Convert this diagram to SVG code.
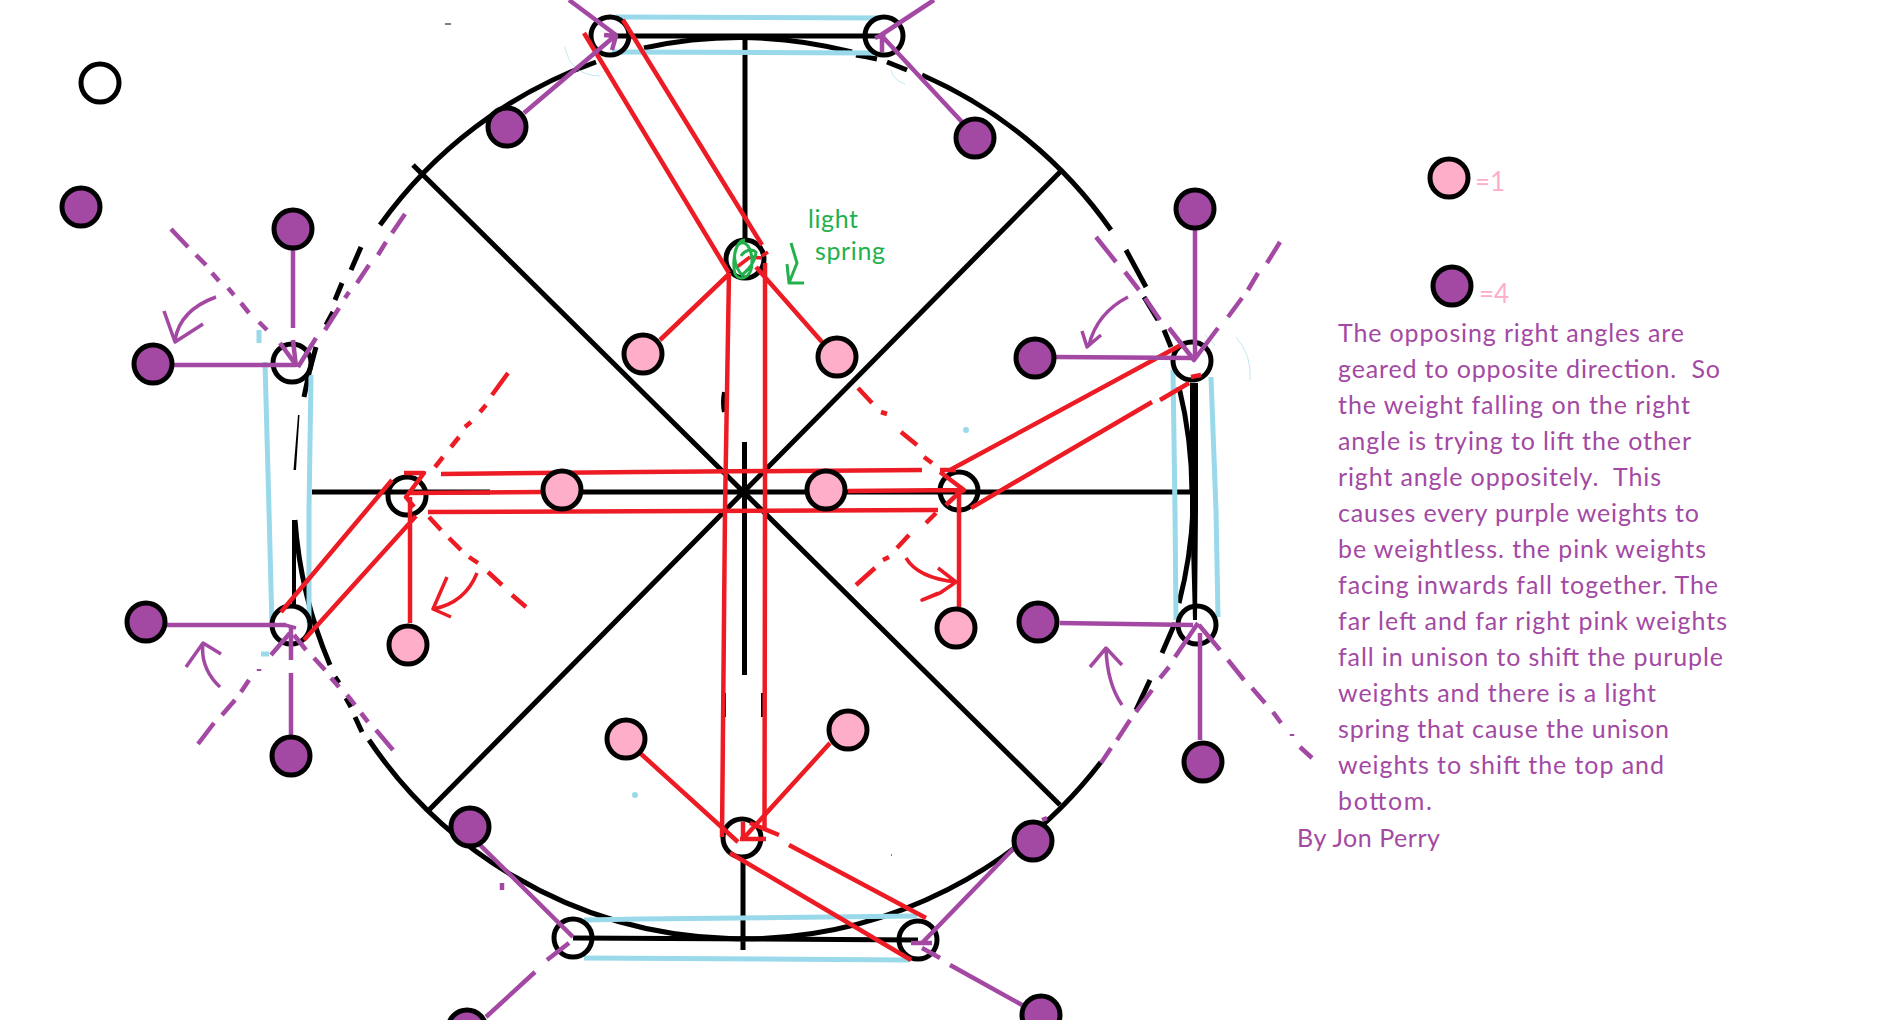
<svg xmlns="http://www.w3.org/2000/svg" width="1895" height="1020" viewBox="0 0 1895 1020">
<style>
.l{fill:none;stroke-linecap:butt;stroke-linejoin:round}
.k{stroke:#000;stroke-width:5}
.kt{stroke:#000;stroke-width:4}
.b{stroke:#99d9ea;stroke-width:5}
.bf{stroke:#99d9ea;stroke-width:1;opacity:.6}
.p{stroke:#a349a4;stroke-width:4.500}
.pt{stroke:#a349a4;stroke-width:3.500}
.r{stroke:#ed1c24;stroke-width:4.500}
.rt{stroke:#ed1c24;stroke-width:3.500}
.g{stroke:#22b14c;stroke-width:3}
.n{stroke:#000;stroke-width:5}
.o{fill:none}
.pi{fill:#ffaec9}
.pu{fill:#a349a4}
text{font-family:Lato,"Liberation Sans",sans-serif;white-space:pre}
.t{font-size:25px;fill:#a349a4}
.gt{font-size:25px;fill:#22b14c}
.lg{font-size:26px;fill:#ffaec9}
</style>
<g id="connectors">
<g id="wheel">
<path class="l k" d="M380 225A451 451 0 0 1 596 62M644 48A451 451 0 0 1 852 52M856 55A451 451 0 0 1 877 59M887 62L907 70M922 75A451 451 0 0 1 1111 230"/>
<path class="l k" d="M1126 250L1146 287M1144 297L1158 320M1164 330L1171 347M1179 387A451 451 0 0 1 1192 493M1193 510A451 451 0 0 1 1179 603M1175 623L1162 653M1150 680L1136 710"/>
<path class="l k" d="M1101 762A451 451 0 0 1 369 740"/>
<path class="l k" d="M362 732L355 717M351 707L346 698M339 683L335 677M330 665A451 451 0 0 1 295 520"/>
<path class="l k" d="M361 247L351 270M342 283L335 300M333 312L326 325M304 397A451 451 0 0 1 316 347"/>
<path class="l kt" d="M294 520V605M724 392Q722 403 724 412"/>
<path class="l" stroke="#000" stroke-width="2" d="M725 693V717M762 693V717"/>
<path d="M298 415L299.500 415L296 470L293.500 470ZM1190 383L1198 383L1198 510L1197 620L1193 620L1190 510Z" fill="#000"/>
<path class="l k" d="M610 36H884M573 938L918 940M745 36V240M743 857V950M744.500 442V675M312 492H490M575 492H1191M413 165L1060 805M429 810L1062 170"/>
<path d="M445 24h6M891 855h1" class="l" stroke="#000" stroke-width="1"/>
</g>
<g id="blue">
<path class="l b" d="M616 17L881 18M612 52L873 53M584 920L640 919L917 916M584 958L909 960M265 362L269 510L272 627M311 375L309 510L309 623M1173 370L1175 510L1176 620M1211 377L1216 510L1218 617"/>
<path class="l b" d="M259 330V343M261 654H269"/>
<circle cx="966" cy="430" r="3" fill="#99d9ea"/><circle cx="635" cy="795" r="3" fill="#99d9ea"/>
<path class="l bf" d="M565 47Q570 75 600 76M891 70Q893 80 905 84M1236 337Q1252 355 1250 380M1205 335L1215 345"/>
</g>
<g id="open-nodes">
<circle class="n o" cx="292" cy="363" r="19"/><circle class="n o" cx="610" cy="36" r="19"/><circle class="n o" cx="884" cy="36" r="19"/><circle class="n o" cx="407" cy="496" r="19"/><circle class="n o" cx="291" cy="625" r="19"/><circle class="n o" cx="573" cy="938" r="19"/><circle class="n o" cx="745" cy="259" r="19"/><circle class="n o" cx="959" cy="491" r="19"/><circle class="n o" cx="1192" cy="361" r="19"/><circle class="n o" cx="1197" cy="625" r="19"/><circle class="n o" cx="742" cy="838" r="19"/><circle class="n o" cx="918" cy="940" r="19"/>
</g>
<g id="red">
<path class="l r" d="M392 480L281 612M404 473H424L406 497L414 507M416 516L304 640M410 497V623M441 474L640 472L922 470M408 493L543 492M848 491L962 490M946 505L964 488M428 512L938 510"/>
<path class="l r" d="M729 273L725 510L722 837M765 263V510L764.500 830M584 33L729 273M623 20L762 245M728 275L660 340M756 267L822 342"/>
<path class="l r" d="M940 470H956M940 472L964 490L959 493V607M950 470L1181 345M971 508L1152 402M1160 400L1189 383M1191 377L1201 375"/>
<path class="l r" d="M640 753L738 842M830 743L742 840M743 822V840M740 839H766M750 823L779 835M789 845L926 918M730 853L911 960"/>
<path class="l r" d="M858 388L872 403M881 412L887 414M901 432L917 445M924 457L932 463M936 513L926 523M909 535L897 548M889 557L883 560M875 568L856 585M508 373L492 395M486 405L480 412M471 422L465 427M459 437L451 447M443 457L435 467M429 517L441 530M449 538L461 550M469 557L478 563M488 572L502 585M512 595L526 607"/>
<path class="l rt" d="M906 558Q918 578 956 582M938 568L956 582L940 593L922 600L938 593M477 573Q465 603 433 609M447 577L433 609L451 617M737 267L750 257M750 257L762 258M762 256L768 252"/>
</g>
<g id="green">
<path class="l g" d="M745 240C735 240 732 262 735 274C740 282 752 278 752 262C752 248 745 238 738 245C733 252 733 265 742 275C750 268 755 262 756 252C752 248 745 250 741 256M791 243L797 263L789 283H804M787 264L789 283"/>
</g>
<g id="purple">
<path class="l p" d="M524 113L616 35M569 0L616 35M604 35L616 36L612 50M934 0L881 35L962 122M882 35V52M875 38L885 34"/>
<path class="l p" d="M293 250V328M293 340L296 367M173 365H296M167 625H286M291 627V660M291 673V735M480 845L573 937M569 943L547 960M535 972L486 1017M1195 230V357M1056 357L1193 358M1060 623L1193 625M1200 633V740M1014 848L922 943M922 948L940 958M950 965L1022 1005M911 943H932M1042 820L1047 818"/>
<path class="l p" d="M171 229L188 247M196 255L206 265M212 273L219 281M228 288L234 295M241 303L249 313M259 322L267 330M280 343L296 365M405 214L392 233M386 242L378 255M369 265L357 283M349 292L345 298M339 308L325 330M316 338L298 367M290 633L271 655M249 680L241 692M235 700L222 715M214 723L198 744M294 635L306 650M314 658L325 670M331 678L339 687M347 695L355 705M361 713L368 722M376 730L393 750M1096 237L1116 262M1125 272L1139 290M1145 298L1160 320M1169 328L1194 360L1218 328M1228 317L1242 298M1248 290L1258 273M1267 263L1280 242M1198 623L1175 657M1169 667L1160 678M1152 690L1136 712M1130 720L1117 740M1111 748L1101 763M1199 625L1220 650M1228 660L1244 680M1252 688L1265 703M1273 712L1281 723M1300 747L1312 758"/>
<path class="l pt" d="M216 297Q180 310 175 340M164 311L175 342L203 324M220 687Q200 668 203 643M186 667L203 643L221 654M1128 297Q1097 313 1089 345M1082 331L1087 347L1101 335M1122 705Q1107 683 1106 648M1090 667L1106 648L1122 665M285 625L296 628"/>
<path class="l p" d="M502 883V890M1292 734V736M259 669V671"/>
</g>
</g>
<g id="n1"><circle class="n o" cx="100" cy="83" r="19"/></g>
<g id="n2"><circle class="n pu" cx="81" cy="207" r="19"/></g>
<g id="n3"><circle class="n pu" cx="293" cy="229" r="19"/></g>
<g id="n4"><circle class="n pu" cx="153" cy="364" r="19"/></g>
<g id="n5"><circle class="n pu" cx="507" cy="127" r="19"/></g>
<g id="n6"><circle class="n pi" cx="643" cy="354" r="19"/></g>
<g id="n7"><circle class="n pi" cx="562" cy="490" r="19"/></g>
<g id="n8"><circle class="n pu" cx="146" cy="622" r="19"/></g>
<g id="n9"><circle class="n pi" cx="408" cy="645" r="19"/></g>
<g id="n10"><circle class="n pu" cx="291" cy="756" r="19"/></g>
<g id="n11"><circle class="n pi" cx="626" cy="739" r="19"/></g>
<g id="n12"><circle class="n pu" cx="470" cy="827" r="19"/></g>
<g id="n13"><circle class="n pu" cx="467" cy="1029" r="19"/></g>
<g id="n14"><circle class="n pu" cx="975" cy="138" r="19"/></g>
<g id="n15"><circle class="n pi" cx="837" cy="357" r="19"/></g>
<g id="n16"><circle class="n pi" cx="826" cy="490" r="19"/></g>
<g id="n17"><circle class="n pu" cx="1035" cy="358" r="19"/></g>
<g id="n18"><circle class="n pu" cx="1195" cy="209" r="19"/></g>
<g id="n19"><circle class="n pi" cx="956" cy="628" r="19"/></g>
<g id="n20"><circle class="n pu" cx="1038" cy="622" r="19"/></g>
<g id="n21"><circle class="n pu" cx="1203" cy="762" r="19"/></g>
<g id="n22"><circle class="n pi" cx="848" cy="730" r="19"/></g>
<g id="n23"><circle class="n pu" cx="1033" cy="841" r="19"/></g>
<g id="n24"><circle class="n pu" cx="1041" cy="1015" r="19"/></g>
<g id="legend-1"><circle class="n pi" cx="1449" cy="178" r="19"/><text class="lg" x="1475" y="191">=1</text></g>
<g id="legend-4"><circle class="n pu" cx="1452" cy="286" r="19"/><text class="lg" x="1479" y="303">=4</text></g>
<g id="spring-label"><text class="gt" x="808" y="228" textLength="50">light</text><text class="gt" x="815" y="260" textLength="70">spring</text></g>
<g id="description">
<text class="t" x="1338" y="342" textLength="346">The opposing right angles are</text>
<text class="t" x="1338" y="378" textLength="382">geared to opposite direction.  So</text>
<text class="t" x="1338" y="414" textLength="352">the weight falling on the right</text>
<text class="t" x="1338" y="450" textLength="353">angle is trying to lift the other</text>
<text class="t" x="1338" y="486" textLength="323">right angle oppositely.  This</text>
<text class="t" x="1338" y="522" textLength="361">causes every purple weights to</text>
<text class="t" x="1338" y="558" textLength="368">be weightless. the pink weights</text>
<text class="t" x="1338" y="594" textLength="380">facing inwards fall together. The</text>
<text class="t" x="1338" y="630" textLength="389">far left and far right pink weights</text>
<text class="t" x="1338" y="666" textLength="385">fall in unison to shift the puruple</text>
<text class="t" x="1338" y="702" textLength="318">weights and there is a light</text>
<text class="t" x="1338" y="738" textLength="331">spring that cause the unison</text>
<text class="t" x="1338" y="774" textLength="326">weights to shift the top and</text>
<text class="t" x="1338" y="810" textLength="94">bottom.</text>
<text class="t" x="1297" y="847" textLength="143">By Jon Perry</text>
</g>
</svg>
